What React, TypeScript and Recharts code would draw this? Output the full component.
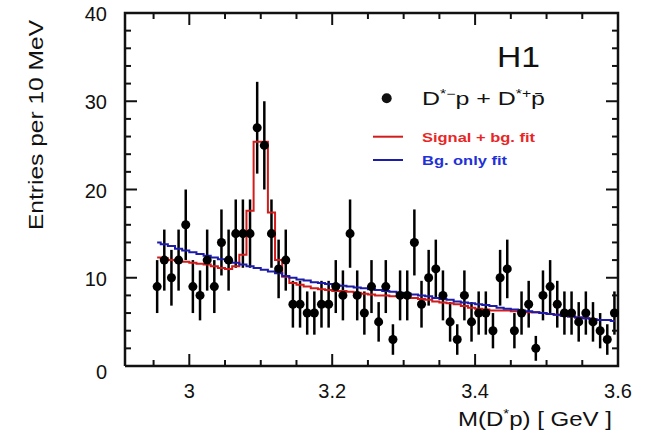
import React from "react";
import { ComposedChart, Scatter, Line, XAxis, YAxis, ErrorBar } from "recharts";

// bin centres of the 10 MeV histogram, in GeV
const MASS = [
  2.955, 2.965, 2.975, 2.985, 2.995, 3.005, 3.015, 3.025, 3.035, 3.045,
  3.055, 3.065, 3.075, 3.085, 3.095, 3.105, 3.115, 3.125, 3.135, 3.145,
  3.155, 3.165, 3.175, 3.185, 3.195, 3.205, 3.215, 3.225, 3.235, 3.245,
  3.255, 3.265, 3.275, 3.285, 3.295, 3.305, 3.315, 3.325, 3.335, 3.345,
  3.355, 3.365, 3.375, 3.385, 3.395, 3.405, 3.415, 3.425, 3.435, 3.445,
  3.455, 3.465, 3.475, 3.485, 3.495, 3.505, 3.515, 3.525, 3.535, 3.545,
  3.555, 3.565, 3.575, 3.585, 3.595,
];

const COUNTS = [
  9, 12, 10, 12, 16, 9, 8, 12, 9, 14,
  12, 15, 15, 15, 27, 25, 15, 11, 12, 7,
  7, 6, 6, 7, 7, 9, 8, 15, 8, 6,
  9, 5, 9, 3, 8, 8, 14, 7, 10, 11,
  8, 5, 3, 8, 5, 6, 6, 4, 10, 11,
  4, 6, 7, 2, 8, 9, 7, 6, 6, 5,
  6, 5, 4, 3, 6,
];

const ERRS = [
  3.0, 3.46, 3.16, 3.46, 4.0, 3.0, 2.83, 3.46, 3.0, 3.74,
  3.46, 3.87, 3.87, 3.87, 5.2, 5.0, 3.87, 3.32, 3.46, 2.65,
  2.65, 2.45, 2.45, 2.65, 2.65, 3.0, 2.83, 3.87, 2.83, 2.45,
  3.0, 2.24, 3.0, 1.73, 2.83, 2.83, 3.74, 2.65, 3.16, 3.32,
  2.83, 2.24, 1.73, 2.83, 2.24, 2.45, 2.45, 2.0, 3.16, 3.32,
  2.0, 2.45, 2.65, 1.41, 2.83, 3.0, 2.65, 2.45, 2.45, 2.24,
  2.45, 2.24, 2.0, 1.73, 2.45,
];

// signal + background fit
const SB_FIT = [
  12.3, 12.2, 12.0, 11.9, 11.8, 11.7, 11.6, 11.5, 11.3, 11.1,
  11.0, 11.3, 12.6, 17.6, 25.4, 25.4, 17.4, 12.0, 10.1, 9.4,
  9.2, 9.0, 8.8, 8.7, 8.6, 8.5, 8.5, 8.4, 8.3, 8.2,
  8.1, 8.0, 8.0, 7.9, 7.9, 7.8, 7.7, 7.6, 7.5, 7.3,
  7.2, 7.1, 7.0, 6.8, 6.6, 6.5, 6.4, 6.3, 6.3, 6.3,
  6.2, 6.2, 6.1, 6.1, 6.0, 5.9, 5.8, 5.7, 5.6, 5.5,
  5.4, 5.3, 5.2, 5.2, 5.1,
];

// background only fit
const BG_FIT = [
  14.0, 13.8, 13.6, 13.3, 13.1, 12.9, 12.7, 12.5, 12.3, 12.1,
  11.9, 11.7, 11.5, 11.3, 11.1, 10.9, 10.7, 10.5, 10.2, 10.0,
  9.8, 9.7, 9.5, 9.4, 9.3, 9.2, 9.1, 9.0, 8.9, 8.8,
  8.7, 8.6, 8.5, 8.4, 8.3, 8.2, 8.1, 8.0, 7.9, 7.7,
  7.6, 7.5, 7.3, 7.2, 7.1, 7.0, 6.9, 6.8, 6.6, 6.5,
  6.4, 6.3, 6.2, 6.1, 6.0, 5.9, 5.8, 5.7, 5.6, 5.5,
  5.4, 5.3, 5.2, 5.2, 5.1,
];

const X_TICKS = [2.95, 3, 3.05, 3.1, 3.15, 3.2, 3.25, 3.3, 3.35, 3.4, 3.45, 3.5, 3.55, 3.6];
const X_LABELS = [3, 3.2, 3.4, 3.6];
const Y_TICKS = [0, 2, 4, 6, 8, 10, 12, 14, 16, 18, 20, 22, 24, 26, 28, 30, 32, 34, 36, 38, 40];
const Y_LABELS = [0, 10, 20, 30, 40];

const X_MIN = 2.91;
const X_MAX = 3.6;
const Y_MIN = 0;
const Y_MAX = 40;

const FONT = '"Liberation Sans", Arial, Helvetica, sans-serif';
const RED = "#d21c1c";
const BLUE = "#1c1ca8";
const INK = "#111";

const rows = MASS.map((x, i) => ({ x, n: COUNTS[i], err: ERRS[i], sb: SB_FIT[i], bg: BG_FIT[i] }));

const has = (list: number[], v: number) => list.some((t) => Math.abs(t - v) < 1e-6);

// tick marks placed through the chart scales, one point per tick on each frame side
const bottomTicks = X_TICKS.map((t) => ({ x: t, y: Y_MIN, major: has(X_LABELS, t) }));
const topTicks = X_TICKS.map((t) => ({ x: t, y: Y_MAX, major: has(X_LABELS, t) }));
const leftTicks = Y_TICKS.map((t) => ({ x: X_MIN, y: t, major: has(Y_LABELS, t) }));
const rightTicks = Y_TICKS.map((t) => ({ x: X_MAX, y: t, major: has(Y_LABELS, t) }));
const frameCorners = [
  { x: X_MIN, y: Y_MIN },
  { x: X_MIN, y: Y_MAX },
  { x: X_MAX, y: Y_MAX },
  { x: X_MAX, y: Y_MIN },
  { x: X_MIN, y: Y_MIN },
];

const tickLen = (p: any) => (p.payload && p.payload.major ? 12 : 6);
const UpTick = (p: any) => <line x1={p.cx} y1={p.cy} x2={p.cx} y2={p.cy - tickLen(p)} stroke={INK} strokeWidth={2} />;
const DownTick = (p: any) => <line x1={p.cx} y1={p.cy} x2={p.cx} y2={p.cy + tickLen(p)} stroke={INK} strokeWidth={2} />;
const RightwardTick = (p: any) => <line x1={p.cx} y1={p.cy} x2={p.cx + tickLen(p)} y2={p.cy} stroke={INK} strokeWidth={2} />;
const LeftwardTick = (p: any) => <line x1={p.cx} y1={p.cy} x2={p.cx - tickLen(p)} y2={p.cy} stroke={INK} strokeWidth={2} />;
const NoShape = () => <g />;

function BottomLabel(props: any) {
  const { x, y, payload } = props;
  if (!has(X_LABELS, payload.value)) return <g />;
  return (
    <text x={x} y={y + 32} textAnchor="middle" fontSize={20} fontFamily={FONT} fill={INK}>
      {payload.value}
    </text>
  );
}

function LeftLabel(props: any) {
  const { x, y, payload } = props;
  if (!has(Y_LABELS, payload.value)) return <g />;
  return (
    <text x={x - 18} y={y + (payload.value === 0 ? 13 : 8)} textAnchor="end" fontSize={20} fontFamily={FONT} fill={INK}>
      {payload.value}
    </text>
  );
}

const YTitle = () => (
  <text
    x={42.7}
    y={125}
    transform="rotate(-90 42.7 125)"
    textAnchor="middle"
    fontSize={20}
    fontFamily={FONT}
    fill={INK}
    textLength={210}
    lengthAdjust="spacingAndGlyphs"
  >
    Entries per 10 MeV
  </text>
);

const XTitle = () => (
  <text x={458} y={426} fontSize={21} fontFamily={FONT} fill={INK} textLength={154} lengthAdjust="spacingAndGlyphs">
    M(D<tspan dy={-8} fontSize={13}>*</tspan>
    <tspan dy={8}>p) [ GeV ]</tspan>
  </text>
);

const LegendBlock = () => (
  <g>
    <text x={497} y={67} fontSize={29} fontFamily={FONT} fill={INK} textLength={43} lengthAdjust="spacingAndGlyphs">
      H1
    </text>
    <circle cx={386.7} cy={98.3} r={5} fill={INK} />
    <text x={422} y={105} fontSize={19} fontFamily={FONT} fill={INK} textLength={123} lengthAdjust="spacingAndGlyphs">
      D<tspan dy={-7} fontSize={12}>*−</tspan>
      <tspan dy={7}>p + D</tspan>
      <tspan dy={-7} fontSize={12}>*+</tspan>
      <tspan dy={7}>p̄</tspan>
    </text>
    <line x1={373} y1={136.7} x2={403} y2={136.7} stroke={RED} strokeWidth={2} />
    <text x={422} y={141.5} fontSize={13} fontWeight="bold" fontFamily={FONT} fill="#e82626" textLength={113} lengthAdjust="spacingAndGlyphs">
      Signal + bg. fit
    </text>
    <line x1={373} y1={160} x2={403} y2={160} stroke={BLUE} strokeWidth={2} />
    <text x={422} y={164.5} fontSize={13} fontWeight="bold" fontFamily={FONT} fill="#2230d8" textLength={85} lengthAdjust="spacingAndGlyphs">
      Bg. only fit
    </text>
  </g>
);

export default function App() {
  return (
    <div style={{ position: "absolute", left: 0, top: 0, width: 648, height: 439 }}>
      <ComposedChart width={648} height={439} data={rows} margin={{ top: 13, right: 30, bottom: 0, left: 0 }}>
        <XAxis
          xAxisId="b"
          type="number"
          dataKey="x"
          domain={[X_MIN, X_MAX]}
          ticks={X_TICKS}
          interval={0}
          height={73}
          tickSize={0}
          tickMargin={0}
          tickLine={false}
          axisLine={false}
          tick={(p: any) => <BottomLabel {...p} />}
          label={<XTitle />}
        />
        <YAxis
          yAxisId="l"
          type="number"
          domain={[Y_MIN, Y_MAX]}
          ticks={Y_TICKS}
          interval={0}
          width={125}
          tickSize={0}
          tickMargin={0}
          tickLine={false}
          axisLine={false}
          tick={(p: any) => <LeftLabel {...p} />}
          label={<YTitle />}
        />

        <Scatter
          xAxisId="b"
          yAxisId="l"
          data={frameCorners}
          dataKey="y"
          shape={NoShape}
          line={{ stroke: INK, strokeWidth: 2.5 }}
          lineJointType="linear"
          isAnimationActive={false}
        />
        <Scatter xAxisId="b" yAxisId="l" data={bottomTicks} dataKey="y" shape={UpTick} isAnimationActive={false} />
        <Scatter xAxisId="b" yAxisId="l" data={topTicks} dataKey="y" shape={DownTick} isAnimationActive={false} />
        <Scatter xAxisId="b" yAxisId="l" data={leftTicks} dataKey="y" shape={RightwardTick} isAnimationActive={false} />
        <Scatter xAxisId="b" yAxisId="l" data={rightTicks} dataKey="y" shape={LeftwardTick} isAnimationActive={false} />

        <Scatter xAxisId="b" yAxisId="l" dataKey="n" fill="#000" isAnimationActive={false}>
          <ErrorBar dataKey="err" direction="y" width={0} stroke="#000" strokeWidth={2.5} />
        </Scatter>
        <Line xAxisId="b" yAxisId="l" dataKey="sb" type="step" stroke={RED} strokeWidth={2} dot={false} isAnimationActive={false} />
        <Line xAxisId="b" yAxisId="l" dataKey="bg" type="step" stroke={BLUE} strokeWidth={2} dot={false} isAnimationActive={false} />
      </ComposedChart>
      <div style={{ display: "none" }}>{/* legend block is drawn through the top label slot below */}</div>
      <svg width={0} height={0} style={{ position: "absolute" }}>
        <g />
      </svg>
      {/* legend and H1 */}
      <LegendHost />
    </div>
  );
}

function LegendHost() {
  return (
    <svg width={648} height={200} style={{ position: "absolute", left: 0, top: 0, pointerEvents: "none", overflow: "visible" }}>
      <LegendBlock />
    </svg>
  );
}
